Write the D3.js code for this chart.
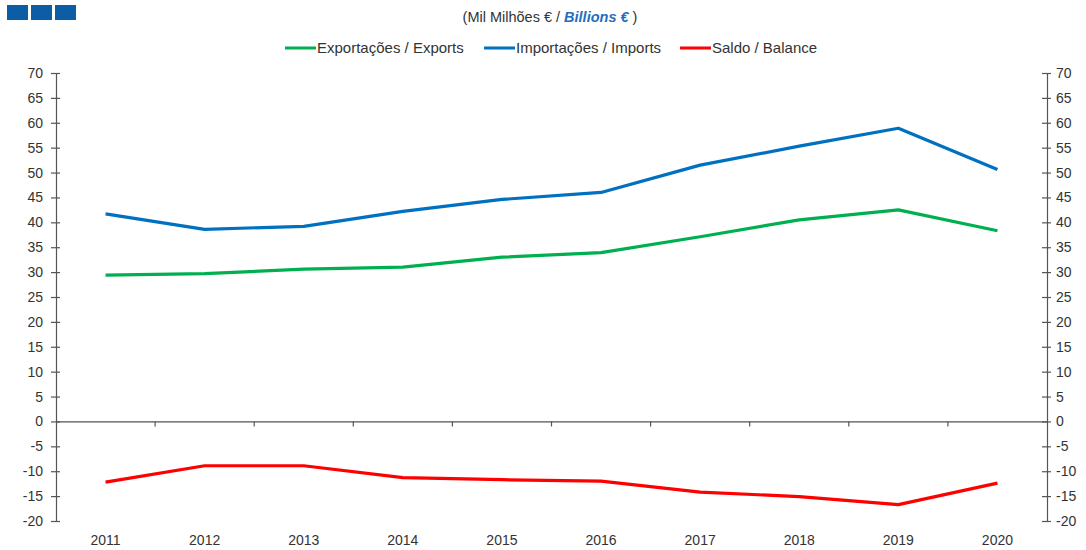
<!DOCTYPE html>
<html><head><meta charset="utf-8">
<script src="https://cdn.jsdelivr.net/npm/d3@7"></script>
<style>
html,body{margin:0;padding:0;background:#fff;}
svg{display:block;font-family:"Liberation Sans",Arial,sans-serif;}
</style></head>
<body>
<svg id="chart" width="1086" height="550"></svg>
<script>
const years = ["2011","2012","2013","2014","2015","2016","2017","2018","2019","2020"];
const exportsVals = [29.4, 29.7, 30.6, 31.0, 33.0, 33.9, 37.1, 40.5, 42.5, 38.3];
const importsVals = [41.7, 38.6, 39.2, 42.2, 44.6, 46.0, 51.5, 55.3, 58.9, 50.6];
const balanceVals = [-12.2, -8.9, -8.9, -11.3, -11.7, -12.0, -14.2, -15.1, -16.7, -12.4];
const yTicks = [70,65,60,55,50,45,40,35,30,25,20,15,10,5,0,-5,-10,-15,-20];
const seriesNames = ["Exportações / Exports","Importações / Imports","Saldo / Balance"];
const seriesColors = ["#00b050","#0070c0","#ff0000"];

(function(){
const svg = d3.select("#chart");
const pL = 56, pR = 1047, pT = 73, pB = 521;

const x = d3.scaleBand().domain(years).range([pL, pR]).padding(0);
const y = d3.scaleLinear().domain([-20, 70]).range([pB, pT]);
const textColor = "#333";
const axisColor = "#555";
const fmt = d => String(d);

// Logo squares
const logo = svg.append("g");
[0,1,2].forEach(i => {
  logo.append("rect").attr("x", 7 + i*24).attr("y", 5).attr("width", 21).attr("height", 15)
    .attr("fill", "#0d5ca6");
});

// Title
const title = svg.append("text").attr("x", 550).attr("y", 22).attr("text-anchor","middle")
  .attr("font-size", 14.5).attr("fill", textColor);
title.append("tspan").text("(Mil Milhões € / ");
title.append("tspan").attr("font-weight","bold").attr("font-style","italic").attr("fill","#1f6fc0").text("Billions  €");
title.append("tspan").text(" )");

// Legend
const legendX = [285, 484, 680];
seriesNames.forEach((n,i) => {
  const g = svg.append("g");
  g.append("line").attr("x1", legendX[i]).attr("x2", legendX[i]+31).attr("y1", 48).attr("y2", 48)
    .attr("stroke", seriesColors[i]).attr("stroke-width", 3);
  g.append("text").attr("x", legendX[i]+32).attr("y", 53).attr("font-size", 15)
    .attr("fill", textColor).text(n);
});

// Left axis
const yAxisL = d3.axisLeft(y).tickValues(yTicks).tickSize(0).tickPadding(13).tickFormat(fmt);
const gL = svg.append("g").attr("transform", `translate(${pL},0)`).call(yAxisL);
gL.select(".domain").attr("stroke", axisColor).attr("stroke-width", 1.2);
gL.selectAll(".tick text").attr("font-size", 14).attr("fill", textColor).attr("font-family","Liberation Sans, Arial, sans-serif");
gL.selectAll(".tick").append("line").attr("x1",-5).attr("x2",4).attr("stroke",axisColor).attr("stroke-width",1.2);

// Right axis
const yAxisR = d3.axisRight(y).tickValues(yTicks).tickSize(0).tickPadding(9).tickFormat(fmt);
const gR = svg.append("g").attr("transform", `translate(${pR},0)`).call(yAxisR);
gR.select(".domain").attr("stroke", axisColor).attr("stroke-width", 1.2);
gR.selectAll(".tick text").attr("font-size", 14).attr("fill", textColor).attr("font-family","Liberation Sans, Arial, sans-serif");
gR.selectAll(".tick").append("line").attr("x1",-5).attr("x2",4).attr("stroke",axisColor).attr("stroke-width",1.2);

// Zero line with category ticks
const xAxis = d3.axisBottom(x).tickSize(0).tickFormat("");
const gX = svg.append("g").attr("transform", `translate(0,${y(0)})`).call(xAxis);
gX.select(".domain").attr("stroke", axisColor).attr("stroke-width", 1.2);
gX.selectAll(".tick").remove();
gX.selectAll(".bt").data(years.slice(1)).enter().append("line")
  .attr("x1", d => x(d)).attr("x2", d => x(d)).attr("y1", 0).attr("y2", 5)
  .attr("stroke", axisColor).attr("stroke-width", 1.2);

// Category labels
svg.append("g").selectAll("text").data(years).enter().append("text")
  .attr("x", d => x(d) + x.bandwidth()/2).attr("y", 545).attr("text-anchor","middle")
  .attr("font-size", 14).attr("fill", textColor).text(d => d);

// Lines
const line = d3.line().x((d,i) => x(years[i]) + x.bandwidth()/2).y(d => y(d));
[exportsVals, importsVals, balanceVals].forEach((vals, i) => {
  svg.append("path").datum(vals).attr("d", line).attr("fill","none")
    .attr("stroke", seriesColors[i]).attr("stroke-width", 3.2).attr("stroke-linejoin","round");
});
})();
</script>
</body></html>
